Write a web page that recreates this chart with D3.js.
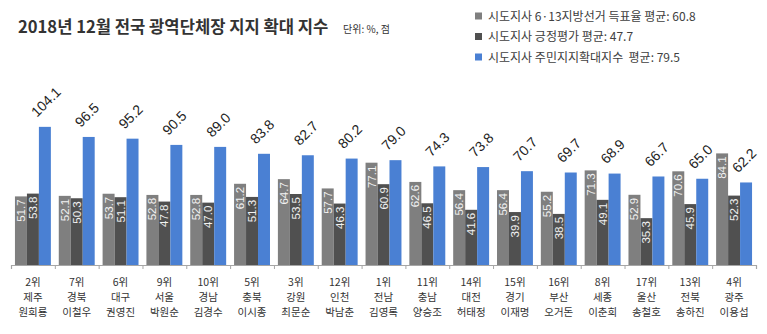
<!DOCTYPE html>
<html><head><meta charset="utf-8">
<script src="https://cdn.jsdelivr.net/npm/d3@7"></script>
<style>
body{margin:0;background:#fff;}
svg{display:block;font-family:"Noto Sans CJK KR","Noto Sans",sans-serif;}
</style></head>
<body><svg id="c" width="767" height="334"></svg>
<script>
const ranks = ["2위","7위","6위","9위","10위","5위","3위","12위","1위","11위","14위","15위","16위","8위","17위","13위","4위"];
const regions = ["제주","경북","대구","서울","경남","충북","강원","인천","전남","충남","대전","경기","부산","세종","울산","전북","광주"];
const names = ["원희룡","이철우","권영진","박원순","김경수","이시종","최문순","박남춘","김영록","양승조","허태정","이재명","오거돈","이춘희","송철호","송하진","이용섭"];
const voteRate = [51.7,52.1,53.7,52.8,52.8,61.2,64.7,57.7,77.1,62.6,56.4,56.4,55.2,71.3,52.9,70.6,84.1];
const approval = [53.8,50.3,51.1,47.8,47.0,51.3,53.5,46.3,60.9,46.5,41.6,39.9,38.5,49.1,35.3,45.9,52.3];
const expansion = [104.1,96.5,95.2,90.5,89.0,83.8,82.7,80.2,79.0,74.3,73.8,70.7,69.7,68.9,66.7,65.0,62.2];
const seriesNames = ["시도지사 6·13지방선거 득표율 평균: 60.8","시도지사 긍정평가 평균: 47.7","시도지사 주민지지확대지수  평균: 79.5"];
const seriesKeys = ["vote","appr","exp"];
const colors = ["#7f7f7f","#505050","#4a80d3"];

const svg = d3.select("#c");
const baseY = 265, left = 11, right = 756;
const x = d3.scaleBand().domain(d3.range(ranks.length)).range([left,right]).paddingInner(0).paddingOuter(0);
const xs = d3.scaleBand().domain(seriesKeys).range([0,x.bandwidth()]).paddingInner(0).paddingOuter(0.33);
const y = d3.scaleLinear().domain([0,110]).range([baseY, baseY-110*1.327]);

// title
svg.append("text").attr("x",18).attr("y",33).attr("font-size",16.6).attr("font-weight",700).attr("fill","#333").text("2018년 12월 전국 광역단체장 지지 확대 지수");
svg.append("text").attr("x",343).attr("y",33).attr("font-size",10).attr("fill","#333").text("단위: %, 점");

// legend
const lg = svg.append("g");
seriesNames.forEach((s,i)=>{
  const yy = 16 + i*20.5;
  lg.append("rect").attr("x",475).attr("y",yy-3.5).attr("width",7).attr("height",7).attr("fill",colors[i]);
  lg.append("text").attr("x",488).attr("y",yy+4.5).attr("font-size",12).attr("fill","#404040").attr("xml:space","preserve").text(s);
});

const data = ranks.map((r,i)=>({i, vote:voteRate[i], appr:approval[i], exp:expansion[i]}));
const g = svg.append("g");
data.forEach(d=>{
  seriesKeys.forEach((k,j)=>{
    const bx = x(d.i)+xs(k);
    g.append("rect").attr("x",bx).attr("y",y(d[k])).attr("width",xs.bandwidth()).attr("height",baseY-y(d[k])).attr("fill",colors[j]);
    const cx = bx + xs.bandwidth()/2;
    if(k==="exp"){
      g.append("text").attr("transform",`translate(${cx-8},${y(d[k])-9}) rotate(-45)`)
        .attr("font-size",14).attr("fill","#222").attr("font-family","'Liberation Sans','DejaVu Sans',sans-serif").text(d[k].toFixed(1));
    } else {
      g.append("text").attr("transform",`translate(${cx+4},${y(d[k])+3}) rotate(-90)`)
        .attr("text-anchor","end").attr("font-size",11.5).attr("fill","#f2f2f2").attr("font-family","'Liberation Sans','DejaVu Sans',sans-serif").text(d[k].toFixed(1));
    }
  });
});

// axis
const xb = d3.scaleLinear().domain([0,ranks.length]).range([left,right]);
const ax = svg.append("g").attr("transform",`translate(0,${baseY})`)
  .call(d3.axisBottom(xb).tickValues(d3.range(ranks.length+1)).tickSize(4).tickFormat(""));
ax.select(".domain").attr("stroke","#a6a6a6").attr("stroke-width",1.2);
ax.selectAll(".tick line").attr("stroke","#a6a6a6");

// category labels
const lab = svg.append("g").attr("font-size",10.5).attr("fill","#333").attr("text-anchor","middle");
data.forEach(d=>{
  const cx = x(d.i)+x.bandwidth()/2;
  [ranks[d.i],regions[d.i],names[d.i]].forEach((t,k)=>{
    lab.append("text").attr("x",cx).attr("y",286+k*15).text(t);
  });
});
</script></body></html>
